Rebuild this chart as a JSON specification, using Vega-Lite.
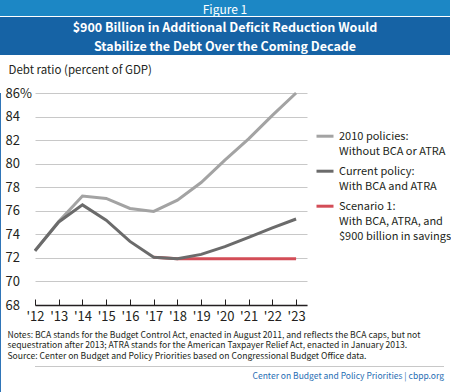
{
  "$schema": "https://vega.github.io/schema/vega-lite/v6.json",
  "background": "white",
  "padding": 0,
  "spacing": 0,
  "config": {"view": {"stroke": null}, "font": "Noto Sans CJK SC, DejaVu Sans Condensed, sans-serif", "concat": {"spacing": 0}},
  "resolve": {"scale": {"color": "independent"}, "legend": {"color": "independent"}},
  "vconcat": [
    {
      "width": 450, "height": 16,
      "data": {"values": [{"t": "Figure 1"}]},
      "layer": [
        {"mark": {"type": "rect", "color": "#1c87c5"}, "encoding": {}},
        {"mark": {"type": "text", "color": "white", "fontSize": 12, "baseline": "middle", "dy": 2.4}, "encoding": {"text": {"field": "t"}}}
      ]
    },
    {
      "width": 450, "height": 38,
      "data": {"values": [{"t": "$900 Billion in Additional Deficit Reduction Would\nStabilize the Debt Over the Coming Decade"}]},
      "layer": [
        {"mark": {"type": "rect", "color": "#1663a5"}, "encoding": {}},
        {"mark": {"type": "text", "color": "white", "fontSize": 12.5, "fontWeight": "bold", "baseline": "middle", "lineBreak": "\n", "lineHeight": 18.5, "dy": -7.6}, "encoding": {"text": {"field": "t"}}}
      ]
    },
    {
      "resolve": {"scale": {"color": "independent"}, "legend": {"color": "independent"}},
      "hconcat": [
        {"width": 1, "height": 334, "data": {"values": [{}]}, "mark": {"type": "rect", "color": "#2f75b8"}, "encoding": {}},
        {
          "resolve": {"scale": {"color": "independent"}, "legend": {"color": "independent"}},
          "vconcat": [
            {
              "width": 272, "height": 212,
              "data": {"values": [
                {"year": 2012, "series": "2010 policies", "debt": 72.6},
                {"year": 2013, "series": "2010 policies", "debt": 75.1},
                {"year": 2014, "series": "2010 policies", "debt": 77.25},
                {"year": 2015, "series": "2010 policies", "debt": 77.05},
                {"year": 2016, "series": "2010 policies", "debt": 76.2},
                {"year": 2017, "series": "2010 policies", "debt": 75.95},
                {"year": 2018, "series": "2010 policies", "debt": 76.9},
                {"year": 2019, "series": "2010 policies", "debt": 78.4},
                {"year": 2020, "series": "2010 policies", "debt": 80.3},
                {"year": 2021, "series": "2010 policies", "debt": 82.1},
                {"year": 2022, "series": "2010 policies", "debt": 84.1},
                {"year": 2023, "series": "2010 policies", "debt": 86.0},
                {"year": 2012, "series": "Current policy", "debt": 72.6},
                {"year": 2013, "series": "Current policy", "debt": 75.05},
                {"year": 2014, "series": "Current policy", "debt": 76.5},
                {"year": 2015, "series": "Current policy", "debt": 75.2},
                {"year": 2016, "series": "Current policy", "debt": 73.4},
                {"year": 2017, "series": "Current policy", "debt": 72.05},
                {"year": 2018, "series": "Current policy", "debt": 71.93},
                {"year": 2019, "series": "Current policy", "debt": 72.3},
                {"year": 2020, "series": "Current policy", "debt": 72.95},
                {"year": 2021, "series": "Current policy", "debt": 73.75},
                {"year": 2022, "series": "Current policy", "debt": 74.55},
                {"year": 2023, "series": "Current policy", "debt": 75.3},
                {"year": 2017, "series": "Scenario 1", "debt": 72.05},
                {"year": 2018, "series": "Scenario 1", "debt": 71.93},
                {"year": 2019, "series": "Scenario 1", "debt": 71.93},
                {"year": 2020, "series": "Scenario 1", "debt": 71.93},
                {"year": 2021, "series": "Scenario 1", "debt": 71.93},
                {"year": 2022, "series": "Scenario 1", "debt": 71.93},
                {"year": 2023, "series": "Scenario 1", "debt": 71.93}
              ]},
              "encoding": {
                "x": {
                  "field": "year", "type": "quantitative",
                  "scale": {"domain": [2012, 2023.46], "nice": false, "zero": false},
                  "axis": {
                    "values": [2012, 2013, 2014, 2015, 2016, 2017, 2018, 2019, 2020, 2021, 2022, 2023],
                    "labelExpr": "\"'\" + substring(toString(datum.value), 2)",
                    "grid": false, "domain": true, "domainColor": "#231f20", "domainWidth": 1.5,
                    "ticks": true, "tickColor": "#231f20", "tickWidth": 1, "tickSize": -6,
                    "labelPadding": 11, "labelBaseline": "top", "labelFontSize": 13, "labelColor": "#231f20",
                    "labelFlush": false, "labelOverlap": false,
                    "title": [
                      "Notes: BCA stands for the Budget Control Act, enacted in August 2011, and reflects the BCA caps, but not",
                      "sequestration after 2013; ATRA stands for the American Taxpayer Relief Act, enacted in January 2013.",
                      "Source: Center on Budget and Policy Priorities based on Congressional Budget Office data."
                    ],
                    "titleFontSize": 8.6, "titleFontWeight": "normal", "titleColor": "#231f20",
                    "titleAnchor": "start", "titleAlign": "left", "titleBaseline": "alphabetic",
                    "titleX": -28, "titleY": 32.5, "titleLineHeight": 10.3
                  }
                },
                "y": {
                  "field": "debt", "type": "quantitative",
                  "scale": {"domain": [68, 86], "nice": false, "zero": false},
                  "axis": {
                    "values": [68, 70, 72, 74, 76, 78, 80, 82, 84, 86],
                    "labelExpr": "datum.value == 86 ? '86%' : datum.label",
                    "grid": true, "gridColor": "#c8c8c8", "gridWidth": 1,
                    "domain": false, "ticks": false, "tickSize": 0,
                    "labelAlign": "left", "labelPadding": 30, "labelFontSize": 13, "labelColor": "#231f20", "labelBaseline": "middle",
                    "title": ["", "Debt ratio (percent of GDP)"],
                    "titleAngle": 0, "titleAlign": "left", "titleBaseline": "alphabetic",
                    "titleX": -27, "titleY": -28.6, "titleLineHeight": 9.3,
                    "titleFontSize": 11.5, "titleFontWeight": "normal", "titleColor": "#231f20"
                  }
                },
                "color": {
                  "field": "series", "type": "nominal",
                  "scale": {"domain": ["2010 policies", "Current policy", "Scenario 1"], "range": ["#a3a3a3", "#6b6b6b", "#d34d57"]},
                  "legend": {
                    "orient": "none", "legendX": 280, "legendY": 33.2, "title": null, "padding": 0,
                    "symbolType": "stroke", "symbolStrokeWidth": 3, "symbolSize": 289,
                    "labelFontSize": 11, "labelColor": "#231f20", "labelOffset": 4, "labelBaseline": "alphabetic", "labelLimit": 300,
                    "rowPadding": 4,
                    "labelExpr": "datum.label == '2010 policies' ? ['2010 policies:', 'Without BCA or ATRA'] : datum.label == 'Current policy' ? ['Current policy:', 'With BCA and ATRA'] : ['Scenario 1:', 'With BCA, ATRA, and', '$900 billion in savings']",
                    "encode": {"labels": {"update": {"dy": {"value": 4}, "lineHeight": {"value": 15}}}}
                  }
                }
              },
              "layer": [
                {"transform": [{"filter": "datum.series === '2010 policies'"}], "mark": {"type": "line", "strokeWidth": 3}},
                {"transform": [{"filter": "datum.series === 'Scenario 1'"}], "mark": {"type": "line", "strokeWidth": 3}},
                {"transform": [{"filter": "datum.series === 'Current policy'"}], "mark": {"type": "line", "strokeWidth": 3}}
              ]
            },
            {
              "width": 409, "height": 1,
              "data": {"values": [{}]},
              "mark": {"type": "rect", "color": "#c8c8c8"}, "encoding": {},
              "title": {"text": "Center on Budget and Policy Priorities | cbpp.org", "orient": "bottom", "anchor": "end", "offset": 5.4, "fontSize": 8.5, "fontWeight": "normal", "color": "#1f6db3", "baseline": "top"}
            }
          ],
          "spacing": 6
        },
        {"width": 1, "height": 334, "data": {"values": [{}]}, "mark": {"type": "rect", "color": "#2f75b8"}, "encoding": {}}
      ],
      "spacing": 4
    },
    {"width": 450, "height": 1, "data": {"values": [{}]}, "mark": {"type": "rect", "color": "#2f75b8"}, "encoding": {}}
  ]
}
